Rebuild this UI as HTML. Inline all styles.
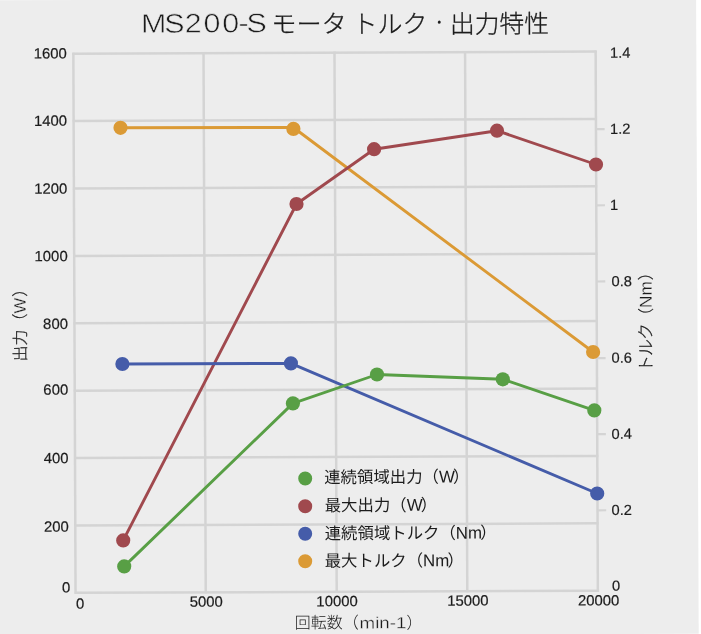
<!DOCTYPE html>
<html lang="ja"><head><meta charset="utf-8"><title>MS200-S モータ トルク・出力特性</title>
<style>html,body{margin:0;padding:0;background:#fff;overflow:hidden}svg{display:block;will-change:transform}text{font-family:"Liberation Sans","Noto Sans CJK JP",sans-serif;fill:#1c1c1c}.tk{font-size:14.9px;stroke:#1c1c1c;stroke-width:0.2px}.tkr{font-size:14.7px;stroke:#1c1c1c;stroke-width:0.2px}.lg{font-size:16.4px}.la{font-size:16.9px}.ax{font-size:16px}.ttl{font-size:25px;font-weight:300}.thin{stroke:#ededed;stroke-width:0.55px}.thin2{stroke:#ededed;stroke-width:0.3px}.axl{font-weight:300;stroke:#1c1c1c;stroke-width:0.25px}.axw{stroke:#ededed;stroke-width:0.25px}.thk{stroke:#1c1c1c;stroke-width:0.3px}.lt{font-weight:300}</style></head><body>
<svg width="701" height="634" viewBox="0 0 701 634">
<rect x="0" y="0" width="701" height="634" fill="#ffffff"/>
<g transform="rotate(-0.235 335.6 322.2)">
<rect x="-20" y="-1" width="717.42" height="636.2" fill="#ededed"/>
<line x1="74.45" y1="51.6" x2="74.45" y2="592.8" stroke="#d4d4d4" stroke-width="2.5"/>
<line x1="204.63" y1="51.6" x2="204.63" y2="592.8" stroke="#d4d4d4" stroke-width="2.5"/>
<line x1="335.6" y1="51.6" x2="335.6" y2="592.8" stroke="#d4d4d4" stroke-width="2.5"/>
<line x1="466.18" y1="51.6" x2="466.18" y2="592.8" stroke="#d4d4d4" stroke-width="2.5"/>
<line x1="596.75" y1="51.6" x2="596.75" y2="592.8" stroke="#d4d4d4" stroke-width="2.5"/>
<line x1="73.45" y1="52.6" x2="597.75" y2="52.6" stroke="#d4d4d4" stroke-width="2.5"/>
<line x1="73.45" y1="120" x2="597.75" y2="120" stroke="#d4d4d4" stroke-width="2.5"/>
<line x1="73.45" y1="187.4" x2="597.75" y2="187.4" stroke="#d4d4d4" stroke-width="2.5"/>
<line x1="73.45" y1="254.8" x2="597.75" y2="254.8" stroke="#d4d4d4" stroke-width="2.5"/>
<line x1="73.45" y1="322.2" x2="597.75" y2="322.2" stroke="#d4d4d4" stroke-width="2.5"/>
<line x1="73.45" y1="389.6" x2="597.75" y2="389.6" stroke="#d4d4d4" stroke-width="2.5"/>
<line x1="73.45" y1="457" x2="597.75" y2="457" stroke="#d4d4d4" stroke-width="2.5"/>
<line x1="73.45" y1="524.4" x2="597.75" y2="524.4" stroke="#d4d4d4" stroke-width="2.5"/>
<line x1="73.45" y1="591.8" x2="597.75" y2="591.8" stroke="#d4d4d4" stroke-width="2.5"/>
<text class="tkr" x="611.1" y="58.83">1.4</text>
<line x1="596.75" y1="130.28" x2="605.45" y2="130.28" stroke="#d4d4d4" stroke-width="2.2"/>
<text class="tkr" x="610.79" y="135.03">1.2</text>
<line x1="596.75" y1="206.38" x2="605.45" y2="206.38" stroke="#d4d4d4" stroke-width="2.2"/>
<text class="tkr" x="610.48" y="211.13">1</text>
<line x1="596.75" y1="282.57" x2="605.45" y2="282.57" stroke="#d4d4d4" stroke-width="2.2"/>
<text class="tkr" x="611.67" y="287.33">0.8</text>
<line x1="596.75" y1="359.17" x2="605.45" y2="359.17" stroke="#d4d4d4" stroke-width="2.2"/>
<text class="tkr" x="611.35" y="363.93">0.6</text>
<line x1="596.75" y1="435.27" x2="605.45" y2="435.27" stroke="#d4d4d4" stroke-width="2.2"/>
<text class="tkr" x="611.04" y="440.03">0.4</text>
<line x1="596.75" y1="511.37" x2="605.45" y2="511.37" stroke="#d4d4d4" stroke-width="2.2"/>
<text class="tkr" x="610.73" y="516.13">0.2</text>
<text class="tkr" x="610.82" y="591.93">0</text>
<text class="tk" x="67.95" y="57.3" text-anchor="end">1600</text>
<text class="tk" x="67.95" y="124.7" text-anchor="end">1400</text>
<text class="tk" x="67.95" y="192.6" text-anchor="end">1200</text>
<text class="tk" x="67.95" y="260" text-anchor="end">1000</text>
<text class="tk" x="67.95" y="327.8" text-anchor="end">800</text>
<text class="tk" x="67.95" y="393.6" text-anchor="end">600</text>
<text class="tk" x="67.95" y="462" text-anchor="end">400</text>
<text class="tk" x="67.95" y="530.5" text-anchor="end">200</text>
<text class="tk" x="69.11" y="591.41" text-anchor="end">0</text>
<text class="tk" x="205.13" y="606.2" text-anchor="middle">5000</text>
<text class="tk" x="335.9" y="606.3" text-anchor="middle">10000</text>
<text class="tk" x="466.68" y="606.2" text-anchor="middle">15000</text>
<text class="tk" x="597.55" y="606.6" text-anchor="middle">20000</text>
<text class="tk" x="78.95" y="607.65" text-anchor="middle">0</text>
<polyline fill="none" stroke="#db9a35" stroke-width="2.9" stroke-linejoin="round" points="121.3,126.92 294.2,127.33 592.98,353.06"/>
<circle cx="121.3" cy="126.92" r="7.1" fill="#db9a35"/>
<circle cx="294.19" cy="128.73" r="7.1" fill="#db9a35"/>
<circle cx="592.98" cy="353.06" r="7.1" fill="#db9a35"/>
<polyline fill="none" stroke="#a0494e" stroke-width="2.9" stroke-linejoin="round" points="122.31,539.53 296.99,203.84 374.81,149.36 497.78,131.36 596.64,165.57"/>
<circle cx="122.31" cy="539.53" r="7.1" fill="#a0494e"/>
<circle cx="296.99" cy="203.84" r="7.1" fill="#a0494e"/>
<circle cx="374.81" cy="149.36" r="7.1" fill="#a0494e"/>
<circle cx="497.78" cy="131.36" r="7.1" fill="#a0494e"/>
<circle cx="596.64" cy="165.57" r="7.1" fill="#a0494e"/>
<polyline fill="none" stroke="#455ca9" stroke-width="2.9" stroke-linejoin="round" points="122.23,363.13 290.73,363.22 596.5,494.57"/>
<circle cx="122.23" cy="363.13" r="7.1" fill="#455ca9"/>
<circle cx="290.73" cy="363.22" r="7.1" fill="#455ca9"/>
<circle cx="596.5" cy="494.57" r="7.1" fill="#455ca9"/>
<polyline fill="none" stroke="#589f45" stroke-width="2.9" stroke-linejoin="round" points="123.2,565.53 292.57,403.22 376.79,374.67 502.56,379.99 593.94,411.46"/>
<circle cx="123.2" cy="565.53" r="7.1" fill="#589f45"/>
<circle cx="292.57" cy="403.22" r="7.1" fill="#589f45"/>
<circle cx="376.79" cy="374.67" r="7.1" fill="#589f45"/>
<circle cx="502.56" cy="379.99" r="7.1" fill="#589f45"/>
<circle cx="593.94" cy="411.46" r="7.1" fill="#589f45"/>
<circle cx="304.56" cy="478.37" r="7" fill="#589f45"/>
<text class="lg" x="323.56" y="482.95">連続領域出力（<tspan class="la">W</tspan><tspan dx="-1.8">）</tspan></text>
<circle cx="304.45" cy="506.17" r="7" fill="#a0494e"/>
<text class="lg" x="323.95" y="511.15">最大出力（<tspan class="la">W</tspan><tspan dx="-1.8">）</tspan></text>
<circle cx="304.33" cy="533.57" r="7" fill="#455ca9"/>
<text class="lg" x="323.83" y="539.15">連続領域トルク（<tspan class="la">Nm</tspan><tspan dx="-1.8">）</tspan></text>
<circle cx="304.22" cy="561.07" r="7" fill="#db9a35"/>
<text class="lg" x="323.72" y="566.65">最大トルク（<tspan class="la">Nm</tspan><tspan dx="-1.8">）</tspan></text>
<text class="ttl thin" transform="translate(141.19 31.95) scale(1.13 1)" x="0.92 21.53 39.66 56.21 72.71 87.1 94.32" y="0" style="font-size:27px">MS200-S</text>
<text class="ttl thk" x="272.39" y="32.74" textLength="75.6" lengthAdjust="spacingAndGlyphs">モータ</text>
<text class="ttl thk" x="353.79" y="33.07" textLength="75" lengthAdjust="spacingAndGlyphs">トルク</text>
<text class="ttl thk" x="433.36" y="28" style="font-size:14px">・</text>
<text class="ttl thk" x="451.19" y="33.47" textLength="99" lengthAdjust="spacingAndGlyphs">出力特性</text>
<text class="ax lt" x="293.44" y="628.23">回転数（</text>
<text class="ax lt thin2" x="358.34" y="628.5" textLength="46.8" lengthAdjust="spacingAndGlyphs">min-1</text>
<text class="ax lt" x="405.24" y="628.69">）</text>
<text class="ax axl" transform="translate(25.84 360.33) rotate(-90)">出力（<tspan class="axw" style="font-size:16.8px">W</tspan><tspan dx="1.0">）</tspan></text>
<text class="ax axl" transform="translate(651.79 373.4) rotate(-90)"><tspan style="font-size:17px;letter-spacing:-1px">トルク</tspan>（<tspan class="axw" style="font-size:17.3px">Nm</tspan><tspan dx="0.9">）</tspan></text>
</g>
</svg></body></html>
